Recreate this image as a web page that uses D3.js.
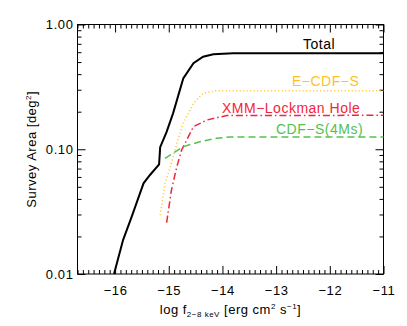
<!DOCTYPE html>
<html>
<head>
<meta charset="utf-8">
<script src="https://cdn.jsdelivr.net/npm/d3@7"></script>
<style>
  body { margin: 0; background: #fff; }
  text { font-family: "Liberation Sans", Arial, Helvetica, sans-serif; }
</style>
</head>
<body>
<div id="chart"></div>
<script>
// data: log flux (x) and survey area in deg^2 (y)
var totalX = [-16.02, -15.85, -15.69, -15.47, -15.35, -15.18, -15.16, -15.04, -14.92, -14.73, -14.54, -14.36, -14.17, -13.80, -11.0];
var totalY = [0.0100, 0.0188, 0.0288, 0.0533, 0.0622, 0.0757, 0.104, 0.138, 0.194, 0.370, 0.489, 0.552, 0.577, 0.587, 0.587];

var ecdfsX = [-15.16, -15.07, -14.95, -14.85, -14.73, -14.54, -14.36, -14.11, -11.0];
var ecdfsY = [0.0297, 0.0533, 0.0771, 0.1116, 0.1615, 0.2336, 0.281, 0.2946, 0.295];

var xmmX = [-15.04, -14.95, -14.85, -14.76, -14.54, -14.29, -13.92, -11.0];
var xmmY = [0.0258, 0.0471, 0.0724, 0.0986, 0.1517, 0.1716, 0.1865, 0.187];

var cdfsX = [-15.07, -14.73, -14.42, -14.11, -13.86, -11.0];
var cdfsY = [0.0846, 0.1048, 0.115, 0.1225, 0.1254, 0.1254];

var xTicks = [-16, -15, -14, -13, -12, -11];
var yTicks = [0.01, 0.1, 1];

// 1. svg size and margins
var svgWidth = 407;
var svgHeight = 326;
var margin = { top: 24.5, right: 23.5, bottom: 52, left: 77.5 };
var width = svgWidth - margin.left - margin.right;
var height = svgHeight - margin.top - margin.bottom;

var svg = d3.select("#chart").append("svg")
    .attr("width", svgWidth)
    .attr("height", svgHeight);

var chartGroup = svg.append("g")
    .attr("transform", `translate(${margin.left}, ${margin.top})`);

// 2. scales
var xScale = d3.scaleLinear().domain([-16.7, -11]).range([0, width]);
var yScale = d3.scaleLog().domain([0.01, 1]).range([height, 0]);

// minor ticks
var xMinor = d3.range(-167, -109).map(d => d / 10).filter(d => d >= -16.7 && d <= -11 && Math.abs(d - Math.round(d)) > 1e-6);
var yMinor = [];
[0.01, 0.1].forEach(function(base) {
  for (var k = 2; k <= 9; k++) yMinor.push(base * k);
});

function fmtMinus(d) { return d < 0 ? "\u2212" + Math.abs(d) : "" + d; }

// 3. axes (ticks pointing inward, IDL style)
function styleAxis(g) {
  g.select(".domain").remove();
  g.selectAll("line").attr("stroke", "#000").attr("stroke-width", 1);
  g.selectAll("text").attr("font-size", "13px").attr("fill", "#000").attr("letter-spacing", "0.6px");
}

chartGroup.append("g").attr("transform", `translate(0, ${height})`)
    .call(d3.axisBottom(xScale).tickValues(xMinor).tickSize(-4).tickFormat(""))
    .call(styleAxis);
chartGroup.append("g").attr("transform", `translate(0, ${height})`)
    .call(d3.axisBottom(xScale).tickValues(xTicks).tickSize(-8).tickPadding(12).tickFormat(fmtMinus))
    .call(styleAxis);
chartGroup.append("g")
    .call(d3.axisTop(xScale).tickValues(xMinor).tickSize(-4).tickFormat(""))
    .call(styleAxis);
chartGroup.append("g")
    .call(d3.axisTop(xScale).tickValues(xTicks).tickSize(-8).tickFormat(""))
    .call(styleAxis);

chartGroup.append("g")
    .call(d3.axisLeft(yScale).tickValues(yMinor).tickSize(-4).tickFormat(""))
    .call(styleAxis);
chartGroup.append("g")
    .call(d3.axisLeft(yScale).tickValues(yTicks).tickSize(-8).tickPadding(4).tickFormat(d3.format(".2f")))
    .call(styleAxis);
chartGroup.append("g").attr("transform", `translate(${width}, 0)`)
    .call(d3.axisRight(yScale).tickValues(yMinor).tickSize(-4).tickFormat(""))
    .call(styleAxis);
chartGroup.append("g").attr("transform", `translate(${width}, 0)`)
    .call(d3.axisRight(yScale).tickValues(yTicks).tickSize(-8).tickFormat(""))
    .call(styleAxis);

chartGroup.append("rect")
    .attr("width", width)
    .attr("height", height)
    .attr("fill", "none")
    .attr("stroke", "#000")
    .attr("stroke-width", 1);

// 4. curves
var line = d3.line()
    .x(d => xScale(d[0]))
    .y(d => yScale(d[1]));

var series = [
  { xs: totalX, ys: totalY, color: "#000000", width: 2, dash: null },
  { xs: ecdfsX, ys: ecdfsY, color: "#ffc21f", width: 1.5, dash: "1,2.5" },
  { xs: xmmX, ys: xmmY, color: "#f2263a", width: 1.5, dash: "7,3,1.5,3" },
  { xs: cdfsX, ys: cdfsY, color: "#55c050", width: 1.5, dash: "7,4" }
];

series.forEach(function(s) {
  chartGroup.append("path")
      .datum(d3.zip(s.xs, s.ys))
      .attr("d", line)
      .attr("fill", "none")
      .attr("stroke", s.color)
      .attr("stroke-width", s.width)
      .attr("stroke-dasharray", s.dash);
});

// 5. curve labels
var labels = [
  { text: "Total", x: 303, y: 49, color: "#000000" },
  { text: "E\u2212CDF\u2212S", x: 292, y: 86, color: "#ffc21f" },
  { text: "XMM\u2212Lockman Hole", x: 222, y: 112.5, color: "#f2263a" },
  { text: "CDF\u2212S(4Ms)", x: 276, y: 133.5, color: "#55c050" }
];
svg.selectAll(".curveLabel")
  .data(labels)
  .enter()
  .append("text")
  .attr("class", "curveLabel")
  .attr("x", d => d.x)
  .attr("y", d => d.y)
  .attr("font-size", "14px")
  .attr("letter-spacing", "0.5px")
  .attr("fill", d => d.color)
  .text(d => d.text);

// 6. axis titles
var xTitle = svg.append("text")
    .attr("x", margin.left + width / 2)
    .attr("y", 314)
    .attr("text-anchor", "middle")
    .attr("font-size", "13px")
    .attr("letter-spacing", "0.5px");
xTitle.append("tspan").text("log f");
xTitle.append("tspan").attr("font-size", "8px").attr("dy", 3).text("2\u22128 keV");
xTitle.append("tspan").attr("dy", -3).text(" [erg cm");
xTitle.append("tspan").attr("font-size", "8px").attr("dy", -5).text("2");
xTitle.append("tspan").attr("dy", 5).text(" s");
xTitle.append("tspan").attr("font-size", "8px").attr("dy", -5).text("\u22121");
xTitle.append("tspan").attr("dy", 5).text("]");

var yTitle = svg.append("text")
    .attr("transform", `translate(36, ${margin.top + height / 2}) rotate(-90)`)
    .attr("text-anchor", "middle")
    .attr("font-size", "13px")
    .attr("letter-spacing", "0.5px");
yTitle.append("tspan").text("Survey Area [deg");
yTitle.append("tspan").attr("font-size", "8px").attr("dy", -5).text("2");
yTitle.append("tspan").attr("dy", 5).text("]");
</script>
</body>
</html>
